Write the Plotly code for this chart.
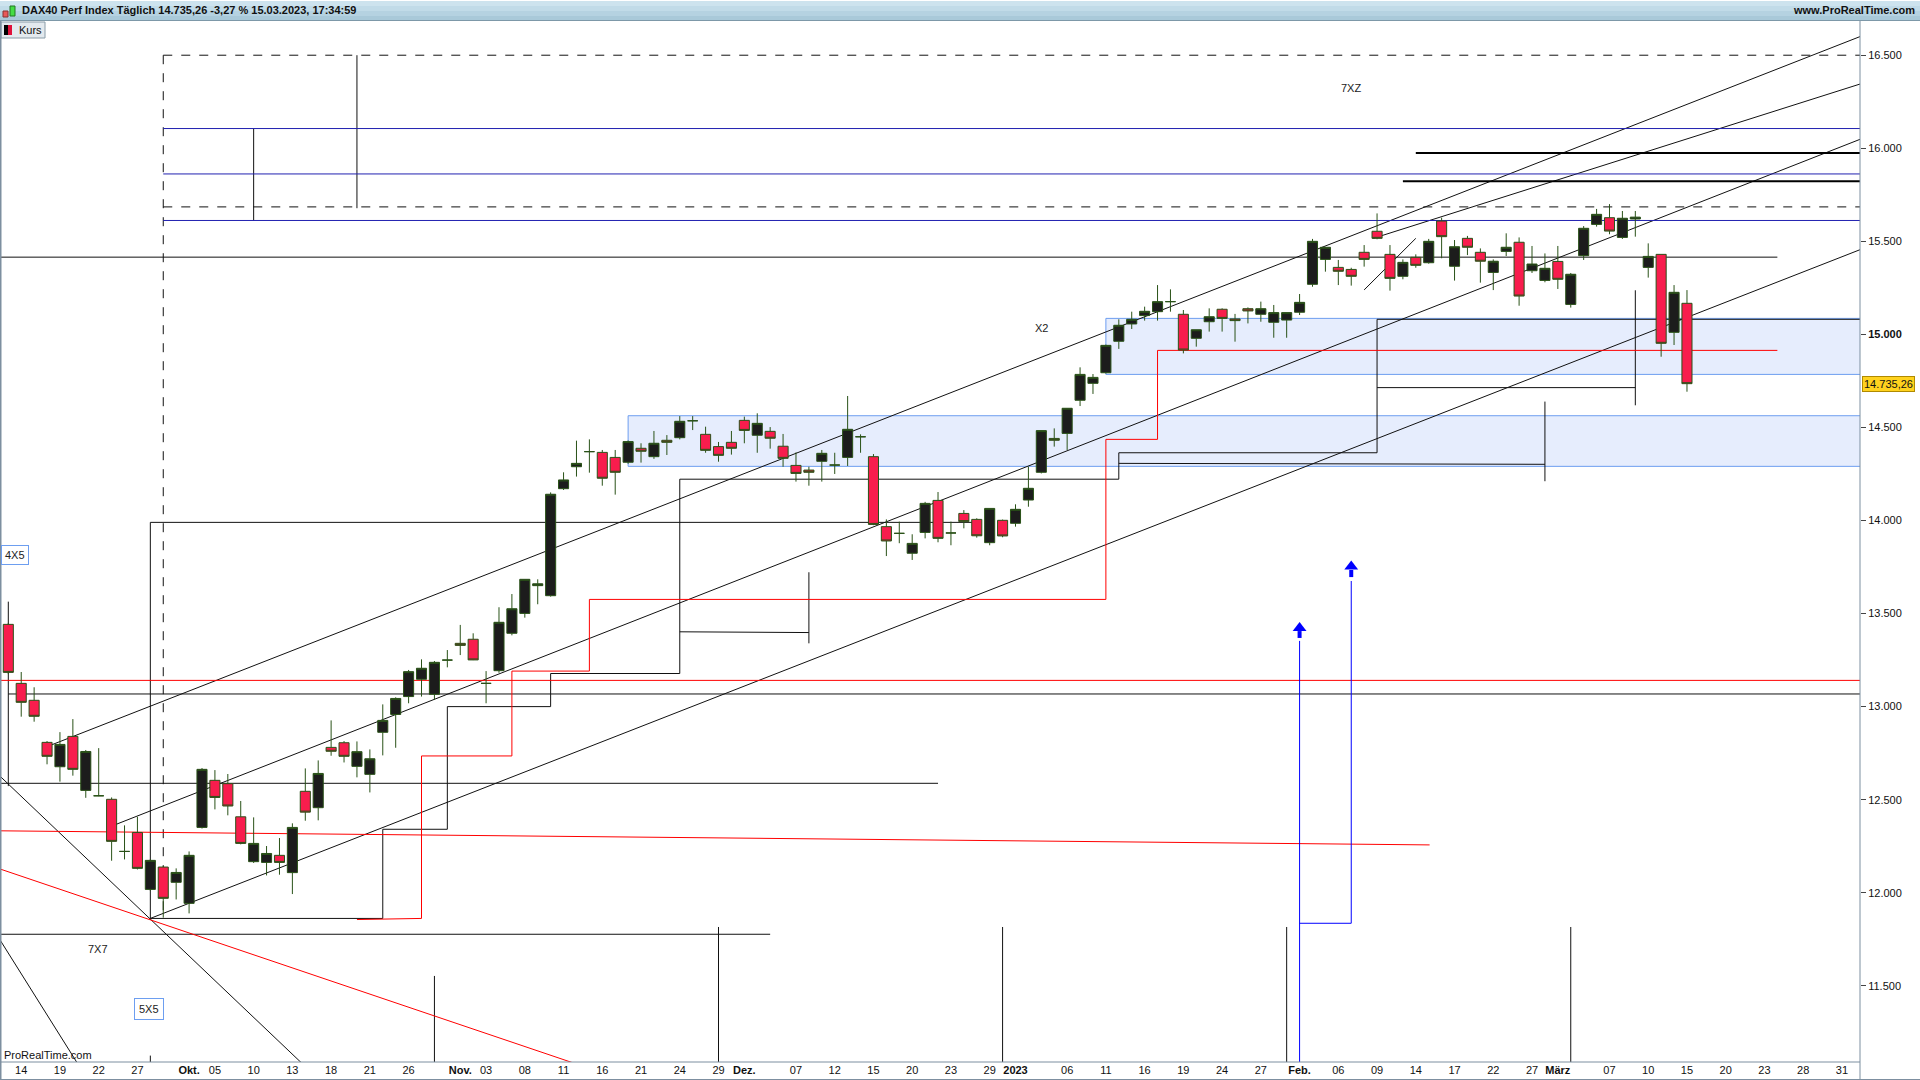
import plotly.graph_objects as go
import pandas as pd

# ---------------- data ----------------
open_ = [13442,13125,13034,12808,12677,12840,12550,12521,12502,12222,12324,12018,12138,12056,11943,
         12351,12604,12586,12408,12167,12163,12201,12108,12545,12457,12781,12806,12679,12636,12862,
         12958,13054,13147,13066,13250,13340,13362,13125,13193,13394,13501,13650,13596,14171,14289,
         14370,14366,14339,14313,14388,14343,14431,14445,14536,14463,14397,14420,14538,14458,14479,
         14399,14296,14271,14318,14298,14339,14450,14343,13967,13931,13824,13936,14108,13933,14038,
         14006,13881,14001,13985,14110,14259,14441,14468,14646,14737,14794,14963,15056,15101,15122,
         15176,15108,14979,15068,15135,15083,15138,15108,15065,15077,15119,15269,15403,15360,15349,
         15441,15554,15430,15312,15414,15385,15609,15366,15516,15441,15333,15446,15495,15342,15290,
         15392,15161,15423,15591,15627,15521,15620,15360,15430,15011,15167]
high_ = [13450,13186,13104,12815,12863,12933,12767,12777,12512,12362,12408,12180,12145,12131,12222,
         12670,12659,12638,12493,12405,12251,12294,12373,12668,12711,12926,12815,12813,12770,13012,
         13050,13197,13254,13245,13304,13439,13394,13191,13534,13605,13684,13684,14151,14259,14429,
         14436,14379,14379,14430,14415,14481,14459,14561,14561,14504,14422,14481,14558,14576,14502,
         14465,14366,14289,14379,14364,14669,14463,14357,14006,13994,13926,14100,14153,13994,14056,
         14012,14065,14005,14087,14289,14483,14495,14603,14823,14787,14945,15081,15122,15149,15265,
         15242,15131,15025,15140,15140,15110,15145,15176,15158,15117,15217,15513,15470,15400,15358,
         15480,15650,15480,15403,15430,15513,15627,15507,15529,15462,15403,15543,15521,15475,15435,
         15475,15330,15582,15674,15700,15663,15663,15489,15430,15265,15238]
low_ = [13175,12946,12919,12690,12597,12629,12510,12519,12172,12179,12125,12010,11866,11964,11889,
        12345,12448,12416,12260,12160,12093,12097,11993,12387,12389,12736,12700,12620,12539,12738,
        12779,13018,13054,13036,13211,13277,13250,13018,13182,13383,13478,13550,13591,14164,14236,
        14257,14187,14139,14305,14311,14331,14352,14436,14486,14364,14316,14354,14415,14364,14386,
        14289,14209,14187,14209,14250,14293,14364,13975,13809,13878,13788,13904,13883,13867,13958,
        13908,13867,13910,13967,14074,14253,14397,14379,14615,14680,14790,14922,15029,15074,15074,
        15122,14898,14934,15015,15015,14961,15059,15068,14982,14982,15104,15256,15337,15265,15262,
        15364,15511,15235,15296,15358,15380,15409,15289,15426,15278,15238,15421,15154,15330,15280,
        15244,15144,15400,15579,15538,15513,15525,15305,14880,14943,14692]
close_ = [13184,13023,12948,12733,12797,12663,12759,12521,12276,12222,12131,12174,11970,12109,12201,
          12663,12512,12466,12265,12265,12211,12163,12351,12433,12641,12760,12733,12758,12720,12926,
          13044,13188,13206,13238,13250,13329,13251,13125,13453,13526,13684,13660,14141,14218,14307,
          14370,14227,14259,14424,14372,14415,14420,14533,14536,14377,14350,14388,14484,14522,14442,
          14334,14253,14259,14361,14298,14490,14450,13979,13890,13931,13877,14092,13904,13933,13994,
          13918,14065,13917,14060,14173,14483,14431,14603,14785,14769,14941,15049,15081,15124,15176,
          15176,14916,15025,15095,15086,15074,15126,15138,15117,15117,15172,15500,15468,15339,15312,
          15403,15516,15301,15387,15371,15500,15525,15471,15468,15393,15393,15468,15206,15378,15355,
          15296,15323,15570,15645,15555,15624,15630,15419,14952,15226,14735.26]

first_day = "2022-09-13"
holidays = ["2022-12-26"]
tick_dates = ["2022-09-14","2022-09-19","2022-09-22","2022-09-27","2022-10-03","2022-10-05","2022-10-10",
              "2022-10-13","2022-10-18","2022-10-21","2022-10-26","2022-11-01","2022-11-03","2022-11-08",
              "2022-11-11","2022-11-16","2022-11-21","2022-11-24","2022-11-29","2022-12-01","2022-12-07",
              "2022-12-12","2022-12-15","2022-12-20","2022-12-23","2022-12-29","2023-01-02","2023-01-06",
              "2023-01-11","2023-01-16","2023-01-19","2023-01-24","2023-01-27","2023-02-01","2023-02-06",
              "2023-02-09","2023-02-14","2023-02-17","2023-02-22","2023-02-27","2023-03-01","2023-03-07",
              "2023-03-10","2023-03-15","2023-03-20","2023-03-23","2023-03-28","2023-03-31"]
tick_labels = ["14","19","22","27","<b>Okt.</b>","05","10","13","18","21","26","<b>Nov.</b>","03","08",
               "11","16","21","24","29","<b>Dez.</b>","07","12","15","20","23","29","<b>2023</b>","06",
               "11","16","19","24","27","<b>Feb.</b>","06","09","14","17","22","27","<b>März</b>","07",
               "10","15","20","23","28","31"]
y_ticks = [11500,12000,12500,13000,13500,14000,14500,15000,15500,16000,16500]
y_labels = ["11.500","12.000","12.500","13.000","13.500","14.000","14.500","<b>15.000</b>",
            "15.500","16.000","16.500"]
last_price = 14735.26

# drawing objects (x in trading-day index, y in index points)
L, R, B = -1, 144.5, 10900
black_segments = [
    (0, 13564, 0, 12573), (11, 13990, 11, 11862), (11, 13990, 75, 13990),
    (0, 13068, R, 13068), (L, 12588, 72, 12588), (L, 11777, 59, 11777),
    (L, 15415, 137, 15415), (19, 16106, 19, 15612), (27, 16500, 27, 15678),
    (52, 13402, 62, 13398), (62, 13722, 62, 13340),
    (86, 14307, 119, 14302), (119, 14639, 119, 14211),
    (106, 14714, 126, 14714), (126, 15237, 126, 14619),
    (33, 11553, 33, B), (55, 11816, 55, B), (77, 11816, 77, B), (99, 11816, 99, B),
    (121, 11816, 121, B), (11, 11125, 11, B),
    (3, 12785, 143.4, 16600), (8, 12358, 143.4, 16048), (11, 11862, 143.4, 15455),
    (105, 15239, 109, 15516), (105.7, 15516, 143.4, 16345),
    (-1, 12650, 23.4, 11040), (-1, 11786, 5.75, 11040),
]
black_step = [(11, 11862), (29, 11862), (29, 12341), (34, 12341), (34, 13000), (42, 13000),
              (42, 13178), (52, 13178), (52, 14222), (86, 14222), (86, 14364), (106, 14364),
              (106, 15081), (R, 15081)]
thick_segments = [(109, 15974, R, 15974), (108, 15823, R, 15823)]
dashed_segments = [(12, 16500, R, 16500), (12, 15685, R, 15685), (12, 16500, 12, 11858)]
navy_segments = [(12, 16106, R, 16106), (12, 15862, R, 15862), (12, 15612, R, 15612)]
red_segments = [(L, 13141, R, 13141), (L, 12333, 110.07, 12257), (-1, 12136, 45.7, 11040)]
red_step = [(27, 11856), (32, 11862), (32, 12735), (39, 12735), (39, 13191), (45, 13191),
            (45, 13576), (85, 13576), (85, 14436), (89, 14436), (89, 14914), (137, 14914)]
blue_segments = [(100, 13353, 100, B), (100, 11836, 104, 11836), (104, 11836, 104, 13675)]
arrow_x = [100, 104]
arrow_tip = [13422, 13753]
arrow_stem = [(13406, 13369), (13734, 13696)]
zones = [(48, 14291, R, 14563), (85, 14785, R, 15086)]
labels = [("X2", 80, 15034, False), ("7XZ", 104, 16323, False), ("7X7", 6.94, 11698, False),
          ("5X5", 10.92, 11376, True)]

# ---------------- figure ----------------
fig = go.Figure()
fig.add_trace(go.Candlestick(
    x=list(range(len(open_))), open=open_, high=high_, low=low_, close=close_,
    increasing=dict(fillcolor="#1c1c1c", line=dict(color="#2a5218", width=1)),
    decreasing=dict(fillcolor="#f81d4d", line=dict(color="#2a5218", width=1)),
    whiskerwidth=0, hoverinfo="skip", showlegend=False))

shapes = []
def seg(x0, y0, x1, y1, color, width=1, dash="solid"):
    shapes.append(dict(type="line", xref="x", yref="y", x0=x0, y0=y0, x1=x1, y1=y1,
                       line=dict(color=color, width=width, dash=dash), layer="below"))

for z in zones:
    shapes.append(dict(type="rect", xref="x", yref="y", x0=z[0], y0=z[1], x1=z[2], y1=z[3],
                       fillcolor="#e6edfd", line=dict(color="#6d9ef0", width=1), layer="below"))
for s in black_segments:
    seg(*s, "#111111", 1)
for a, b in zip(black_step[:-1], black_step[1:]):
    seg(a[0], a[1], b[0], b[1], "#111111", 1)
for s in thick_segments:
    seg(*s, "#000000", 2)
for s in dashed_segments:
    seg(*s, "#111111", 1, "dash")
for s in navy_segments:
    seg(*s, "#2020b0", 1)
for s in red_segments:
    seg(*s, "#ff0000", 1)
for a, b in zip(red_step[:-1], red_step[1:]):
    seg(a[0], a[1], b[0], b[1], "#ff0000", 1)
for s in blue_segments:
    seg(*s, "#0000ff", 1)
for xk, st in zip(arrow_x, arrow_stem):
    shapes.append(dict(type="line", xref="x", yref="y", x0=xk, x1=xk, y0=st[0], y1=st[1],
                       line=dict(color="#0000ff", width=4)))

fig.add_trace(go.Scatter(x=arrow_x, y=arrow_tip, mode="markers",
                         marker=dict(symbol="triangle-up", size=12, color="#0000ff"),
                         hoverinfo="skip", showlegend=False))

# title bar
H = 1041.0
W = 1860.0
stripes = ["#cde3ee", "#c1dbe8", "#b5d2e1", "#a9c9d9"]
for i, c in enumerate(stripes):
    shapes.append(dict(type="rect", xref="paper", yref="paper", x0=0, x1=1920 / W,
                       y0=1 + (20 - 5 * (i + 1)) / H, y1=1 + (20 - 5 * i) / H,
                       fillcolor=c, line=dict(width=0), layer="above"))
shapes.append(dict(type="line", xref="paper", yref="paper", x0=0, x1=1920 / W, y0=1 + 0.5 / H,
                   y1=1 + 0.5 / H, line=dict(color="#7d98a8", width=1)))
# icon in title bar
shapes.append(dict(type="rect", xref="paper", yref="paper", x0=3 / W, x1=8 / W,
                   y0=1 + 4 / H, y1=1 + 10 / H, fillcolor="#e85a5a", line=dict(color="#883333", width=1)))
shapes.append(dict(type="rect", xref="paper", yref="paper", x0=10 / W, x1=15 / W,
                   y0=1 + 5 / H, y1=1 + 15 / H, fillcolor="#44dd44", line=dict(color="#227722", width=1)))
# Kurs box
shapes.append(dict(type="rect", xref="paper", yref="paper", x0=1 / W, x1=45 / W,
                   y0=1 - 17 / H, y1=1 - 1 / H, fillcolor="#e3e9ee", line=dict(color="#8a9ca8", width=1)))
shapes.append(dict(type="rect", xref="paper", yref="paper", x0=4 / W, x1=8 / W,
                   y0=1 - 14 / H, y1=1 - 4 / H, fillcolor="#000000", line=dict(width=0)))
shapes.append(dict(type="rect", xref="paper", yref="paper", x0=8 / W, x1=12 / W,
                   y0=1 - 14 / H, y1=1 - 4 / H, fillcolor="#e0103a", line=dict(width=0)))
# borders
shapes.append(dict(type="line", xref="paper", yref="paper", x0=0.5 / W, x1=0.5 / W, y0=-18 / H, y1=1,
                   line=dict(color="#7d8fa0", width=2)))
shapes.append(dict(type="line", xref="paper", yref="paper", x0=1, x1=1, y0=-18 / H, y1=1,
                   line=dict(color="#7d8fa0", width=1)))
shapes.append(dict(type="line", xref="paper", yref="paper", x0=0, x1=1, y0=0, y1=0,
                   line=dict(color="#7d8fa0", width=1)))
shapes.append(dict(type="line", xref="paper", yref="paper", x0=0, x1=1920 / W, y0=-17.5 / H, y1=-17.5 / H,
                   line=dict(color="#7d8fa0", width=1)))

annotations = []
font_main = "Liberation Sans, Arial, sans-serif"
annotations.append(dict(xref="paper", yref="paper", x=20 / W, y=1 + 10.5 / H, xanchor="left", yanchor="middle",
                        text="<b>DAX40 Perf Index Täglich 14.735,26 -3,27 % 15.03.2023, 17:34:59</b>",
                        showarrow=False, font=dict(family=font_main, size=11, color="#111111")))
annotations.append(dict(xref="paper", yref="paper", x=1917 / W, y=1 + 10.5 / H, xanchor="right", yanchor="middle",
                        text="<b>www.ProRealTime.com</b>", showarrow=False,
                        font=dict(family=font_main, size=11, color="#111111")))
annotations.append(dict(xref="paper", yref="paper", x=17 / W, y=1 - 9 / H, xanchor="left", yanchor="middle",
                        text="Kurs", showarrow=False, font=dict(family=font_main, size=11, color="#111111")))
annotations.append(dict(xref="paper", yref="paper", x=2 / W, y=7 / H, xanchor="left", yanchor="middle",
                        text="ProRealTime.com", showarrow=False,
                        font=dict(family=font_main, size=11, color="#111111")))
annotations.append(dict(xref="paper", yref="y", x=1 + 2 / W, y=last_price, xanchor="left", yanchor="middle",
                        text="14.735,26", showarrow=False, bgcolor="#ffd21e", bordercolor="#b08a00",
                        borderwidth=1, borderpad=1, font=dict(family=font_main, size=11, color="#111111")))
for txt, xk, yv, boxed in labels:
    d = dict(xref="x", yref="y", x=xk, y=yv, text=txt, showarrow=False,
             font=dict(family=font_main, size=11, color="#222222"))
    if boxed:
        d.update(bordercolor="#6d9ef0", borderwidth=1, borderpad=4, bgcolor="#ffffff")
    annotations.append(d)
annotations.append(dict(xref="paper", yref="y", x=1 / W, y=13815, xanchor="left", yanchor="middle",
                        text="4X5", showarrow=False, bordercolor="#6d9ef0", borderwidth=1, borderpad=3,
                        bgcolor="#ffffff", font=dict(family=font_main, size=11, color="#222222")))

days = pd.bdate_range(first_day, "2023-04-28")
days = [d for d in days if d.strftime("%Y-%m-%d") not in holidays]
index_of = {d.strftime("%Y-%m-%d"): i for i, d in enumerate(days)}
tick_vals = [index_of[d] for d in tick_dates]

fig.update_layout(
    width=1920, height=1080, margin=dict(l=0, r=60, t=21, b=18),
    paper_bgcolor="white", plot_bgcolor="white", showlegend=False,
    boxgap=0.22, boxgroupgap=0,
    shapes=shapes, annotations=annotations,
    xaxis=dict(range=[-0.643, 143.4], tickmode="array", tickvals=tick_vals, ticktext=tick_labels,
               showgrid=False, zeroline=False, showline=False, ticks="", automargin=False,
               rangeslider=dict(visible=False),
               tickfont=dict(family="Liberation Sans Narrow, Liberation Sans, Arial", size=11, color="#111111")),
    yaxis=dict(side="right", range=[11090.6, 16683.8], tickmode="array", tickvals=y_ticks, ticktext=y_labels,
               showgrid=False, zeroline=False, showline=False, ticks="outside", ticklen=5, tickcolor="#444444",
               automargin=False,
               tickfont=dict(family=font_main, size=11, color="#111111")),
)
fig.write_html("out.html", config={"displayModeBar": False},
               post_script="document.body.style.margin='0px';document.body.style.overflow='hidden';")
